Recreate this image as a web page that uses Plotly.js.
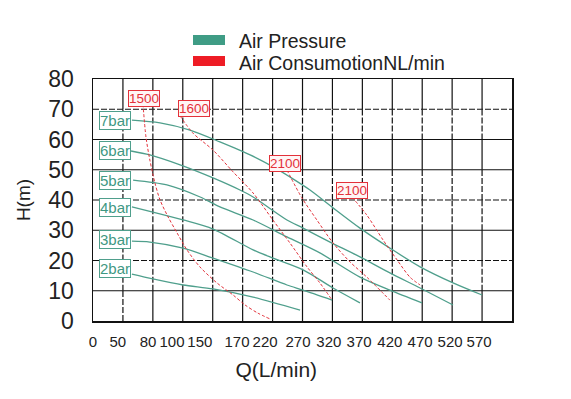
<!DOCTYPE html>
<html>
<head>
<meta charset="utf-8">
<script src="https://cdn.plot.ly/plotly-3.0.1.min.js"></script>
<style>html,body{margin:0;padding:0;background:#fff;}#chart{width:571px;height:399px;}</style>
</head>
<body>
<div id="chart"></div>
<script>
// X axis is measured in grid columns; tick labels as printed on the chart
const xTickPos = [0, 0.83, 1.84, 2.64, 3.57, 4.81, 5.75, 6.85, 7.88, 8.89, 9.92, 10.93, 11.93, 12.9];
const xTickText = ["0","50","80","100","150","170","220","270","320","370","420","470","520","570"];
const yTickVals = [0,10,20,30,40,50,60,70,80];

// Air pressure curves (x in grid columns, y = H in m)
const p7x = [1.30,2.24,3.24,4.24,5.25,6.08,6.58,7.25,8.02,8.92,9.92,10.93,12.03,13.00];
const p7y = [66.4,65.5,63.1,59.2,54.9,50.6,47.6,43.3,37.4,30.7,24.1,17.9,12.6,8.6];
const p6x = [1.27,1.90,2.91,4.01,4.91,5.35,6.48,7.02,7.92,8.92,9.92,10.93,12.03];
const p6y = [56.2,54.9,51.6,47.3,43.3,41.0,33.4,30.7,26.1,21.2,15.9,10.9,5.3];
const p5x = [1.34,2.47,3.58,4.24,5.35,6.48,7.58,8.92,9.92,10.99];
const p5y = [46.6,45.0,41.0,37.7,33.4,27.8,22.5,14.5,10.2,6.0];
const p4x = [1.30,2.00,3.01,4.01,5.35,6.01,7.02,8.02,8.92];
const p4y = [37.7,36.0,33.4,30.4,23.5,20.8,16.9,10.9,6.0];
const p3x = [1.30,1.90,3.01,4.01,5.35,6.48,7.02,7.99];
const p3y = [26.4,26.1,24.1,20.8,16.2,11.9,10.2,6.9];
const p2x = [1.30,2.00,3.01,4.01,5.35,6.92];
const p2y = [15.5,13.9,11.9,10.6,7.9,3.6];
const pressureLabels = ["7bar","6bar","5bar","4bar","3bar","2bar"];
const pressureLabelX = [0.74,0.74,0.74,0.74,0.74,0.74];
const pressureLabelY = [66.4,56.5,46.6,37.4,27.1,17.2];

// Air consumption curves
const c1500x = [1.67,1.77,1.90,2.07,2.24,2.51,2.81,3.14,3.57,4.14,4.68,5.08,5.51,5.91];
const c1500y = [71.7,60.8,53.2,45.6,40.0,34.4,29.1,23.5,17.9,12.6,8.6,5.3,2.6,0.7];
const c1600x = [2.91,3.34,4.01,4.68,5.35,6.01,6.58,7.15,7.58,7.99];
const c1600y = [67.8,62.1,56.5,49.3,42.3,33.4,25.8,17.9,12.6,6.9];
const c2100ax = [6.48,6.98,7.48,8.02,8.59,9.15,9.92];
const c2100ay = [49.9,40.7,33.4,25.8,19.5,14.5,6.9];
const c2100bx = [8.65,9.15,9.69,10.16,10.59,10.93];
const c2100by = [41.0,35.0,26.8,20.2,14.5,11.9];
const consLabels = ["1500","1600","2100","2100"];
const consLabelX = [1.69,3.36,6.40,8.65];
const consLabelY = [73.7,70.1,52.2,43.1];

const TEAL = "#4f9f8c", TEAL_TXT = "#3f9883", RED = "#e3313a";
const pressure = [[p7x,p7y],[p6x,p6y],[p5x,p5y],[p4x,p4y],[p3x,p3y],[p2x,p2y]];
const cons = [[c1500x,c1500y],[c1600x,c1600y],[c2100ax,c2100ay],[c2100bx,c2100by]];

const traces = [];
pressure.forEach((s,i)=>traces.push({x:s[0],y:s[1],type:"scatter",mode:"lines",
  name:pressureLabels[i],showlegend:false,hoverinfo:"skip",
  line:{color:TEAL,width:1.3,shape:"spline",smoothing:0.8}}));
cons.forEach((s,i)=>traces.push({x:s[0],y:s[1],type:"scatter",mode:"lines",
  name:consLabels[i],showlegend:false,hoverinfo:"skip",
  line:{color:RED,width:1,dash:"3px,2px",shape:"spline",smoothing:0.8}}));

// grid: black lines; some dashed
const shapes = [];
const yDashed = [20,40,70];
for (let v=10; v<80; v+=10){
  shapes.push({type:"line",xref:"x",yref:"y",x0:0,x1:14,y0:v,y1:v,layer:"below",
    line:{color:"#111",width:1.2,dash:yDashed.includes(v)?"6px,2px":"solid"}});
}
const dashedRows = [[60,70],[40,50],[30,40],[10,20]];
for (let c=1;c<14;c++){
  for (let r=0;r<80;r+=10){
    const isDash = c===1 ? r<70 : dashedRows.some(d=>d[0]===r);
    shapes.push({type:"line",xref:"x",yref:"y",x0:c,x1:c,y0:r,y1:r+10,layer:"below",
      line:{color:"#111",width:1.2,dash:isDash?"6px,2px":"solid"}});
  }
}
// legend swatches
const PW=419, PH=242;
function px2x(p){return (p-93)/PW;}
function py2y(p){return (321-p)/PH;}
shapes.push({type:"rect",xref:"paper",yref:"paper",x0:px2x(193),x1:px2x(225),y0:py2y(45),y1:py2y(35),fillcolor:"#3f9c85",line:{width:0}});
shapes.push({type:"rect",xref:"paper",yref:"paper",x0:px2x(193),x1:px2x(225),y0:py2y(66),y1:py2y(56),fillcolor:"#ee1c25",line:{width:0}});

const annotations = [];
pressureLabels.forEach((t,i)=>annotations.push({x:pressureLabelX[i],y:pressureLabelY[i],xref:"x",yref:"y",
  text:t,showarrow:false,font:{family:"Arial",size:15,color:TEAL_TXT},
  bgcolor:"#fff",bordercolor:TEAL,borderwidth:1,borderpad:0}));
consLabels.forEach((t,i)=>annotations.push({x:consLabelX[i],y:consLabelY[i],xref:"x",yref:"y",
  text:t,showarrow:false,font:{family:"Arial",size:13.5,color:RED},
  bgcolor:"#fff5f5",bordercolor:RED,borderwidth:1,borderpad:0}));
annotations.push({x:px2x(237),y:py2y(41),xref:"paper",yref:"paper",xanchor:"left",yanchor:"middle",
  text:"Air Pressure",showarrow:false,font:{family:"Arial",size:19.5,color:"#222"}});
annotations.push({x:px2x(237),y:py2y(63),xref:"paper",yref:"paper",xanchor:"left",yanchor:"middle",
  text:"Air ConsumotionNL/min",showarrow:false,font:{family:"Arial",size:19.5,color:"#222"}});

const layout = {
  width:571,height:399,
  margin:{l:93,r:59,t:79,b:78,pad:0},
  paper_bgcolor:"#fff",plot_bgcolor:"#fff",
  showlegend:false,
  xaxis:{range:[0,14],tickvals:xTickPos,ticktext:xTickText,showgrid:false,zeroline:false,
    showline:true,mirror:true,linecolor:"#111",linewidth:1.5,ticks:"",ticklabelstandoff:6,
    tickfont:{family:"Arial",size:15,color:"#222"},
    title:{text:"Q(L/min)"+"&nbsp;".repeat(9),font:{family:"Arial",size:21,color:"#222"},standoff:14}},
  yaxis:{range:[0,80],tickvals:yTickVals,showgrid:false,zeroline:false,
    showline:true,mirror:true,linecolor:"#111",linewidth:1.5,ticks:"",ticklabelstandoff:13,
    tickfont:{family:"Arial",size:23,color:"#222"},
    title:{text:"H(m)",font:{family:"Arial",size:19,color:"#222"},standoff:12}},
  shapes:shapes,annotations:annotations
};
Plotly.newPlot("chart",traces,layout,{displayModeBar:false,staticPlot:true});
</script>
</body>
</html>
